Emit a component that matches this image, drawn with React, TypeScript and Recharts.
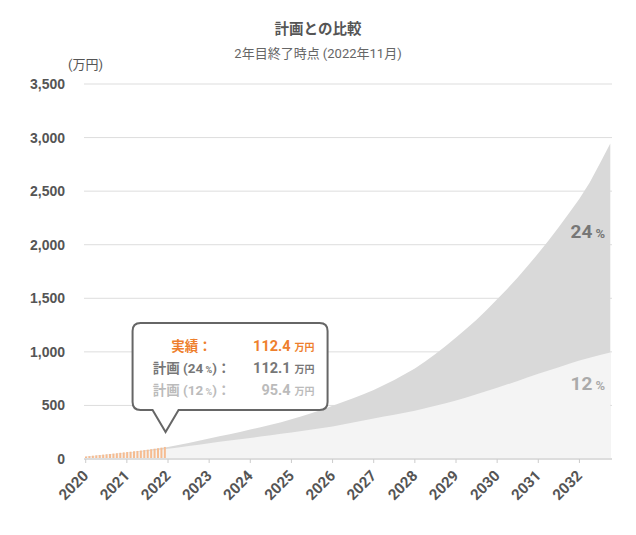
import React from "react";
import {
  ComposedChart,
  Area,
  Bar,
  XAxis,
  YAxis,
  CartesianGrid,
  ReferenceDot,
} from "recharts";

// plan values, every 3 months from 2020-01 (万円)
const plan24Quarterly = [
  22, 30, 39, 48,
  58, 70, 83, 97,
  112, 130, 150, 170,
  192, 212, 232, 253,
  275, 297, 320, 344,
  370, 400, 430, 462,
  497, 532, 568, 605,
  645, 690, 738, 790,
  845, 910, 980, 1055,
  1135, 1215, 1300, 1392,
  1490, 1590, 1695, 1805,
  1920, 2040, 2165, 2295,
  2430, 2580, 2760, 2945,
];
const plan12Quarterly = [
  20, 29, 38, 46,
  55, 65, 75, 85,
  95, 108, 121, 134,
  148, 160, 172, 184,
  196, 209, 222, 235,
  248, 262, 276, 290,
  304, 322, 340, 359,
  378, 396, 414, 432,
  450, 473, 496, 520,
  545, 574, 604, 634,
  665, 697, 729, 762,
  795, 826, 857, 888,
  920, 945, 970, 993,
];
// actual, monthly
const actualMonthly = [
  24, 27, 31, 34, 37, 41, 44, 47, 51, 54, 58, 62,
  65, 68, 72, 75, 79, 83, 87, 91, 96, 101, 106, 112.4,
];
const yearLabels = [
  "2020", "2021", "2022", "2023", "2024", "2025", "2026",
  "2027", "2028", "2029", "2030", "2031", "2032",
];
const yTicks = [0, 500, 1000, 1500, 2000, 2500, 3000, 3500];

const MONTHS = 154;
const CALLOUT_INDEX = 23;
const calloutActual = 112.4;
const calloutPlan24 = 112.1;
const calloutPlan12 = 95.4;

const data = Array.from({ length: MONTHS }, (_, m) => ({
  m,
  actual: m < actualMonthly.length ? actualMonthly[m] : null,
  p24: m % 3 === 0 ? plan24Quarterly[m / 3] : null,
  p12: m % 3 === 0 ? plan12Quarterly[m / 3] : null,
}));

const FONT = "Roboto, 'Noto Sans CJK JP', sans-serif";
const ORANGE = "#EE7F2D";

function YearTick({ x, y, payload }: any) {
  const label = yearLabels[payload.value / 12];
  if (!label) return null;
  return (
    <g transform={`translate(${x - 2},${y + 6})`}>
      <text
        textAnchor="end"
        transform="rotate(-45)"
        dy={8}
        fill="#555"
        fontSize={15}
        fontWeight={700}
        fontFamily={FONT}
      >
        {label}
      </text>
    </g>
  );
}

function Callout({ cx, cy }: any) {
  const tx = cx + 1;
  const ty = cy - 15;
  const left = tx - 33;
  const right = tx + 162;
  const top = ty - 109;
  const bottom = ty - 22;
  const r = 8;
  const path = [
    `M${left + r},${top}`,
    `H${right - r}`,
    `Q${right},${top} ${right},${top + r}`,
    `V${bottom - r}`,
    `Q${right},${bottom} ${right - r},${bottom}`,
    `H${tx + 13}`,
    `L${tx},${ty}`,
    `L${tx - 13},${bottom}`,
    `H${left + r}`,
    `Q${left},${bottom} ${left},${bottom - r}`,
    `V${top + r}`,
    `Q${left},${top} ${left + r},${top}`,
    "Z",
  ].join(" ");
  const labelX = tx + 26;
  const valueX = tx + 125;
  const unitX = tx + 149;
  const rows = [
    { label: "実績：", pct: "", value: calloutActual, color: ORANGE },
    { label: "計画 (24", pct: " %", value: calloutPlan24, color: "#777" },
    { label: "計画 (12", pct: " %", value: calloutPlan12, color: "#bbb" },
  ];
  return (
    <g fontFamily={FONT} fontWeight={700}>
      <path d={path} fill="#fff" stroke="#666" strokeWidth={2} />
      {rows.map((row, i) => {
        const by = top + 28 + i * 22;
        return (
          <g key={i} fill={row.color}>
            <text x={labelX} y={by} textAnchor="middle" fontSize={13.5}>
              {row.label}
              {row.pct && <tspan fontSize={9}>{row.pct}</tspan>}
              {row.pct && <tspan fontSize={13.5}>)：</tspan>}
            </text>
            <text x={valueX} y={by} textAnchor="end" fontSize={14.5}>
              {row.value.toFixed(1)}
            </text>
            <text x={unitX} y={by} textAnchor="end" fontSize={10}>
              万円
            </text>
          </g>
        );
      })}
    </g>
  );
}

export default function App() {
  return (
    <div
      style={{
        position: "absolute",
        left: 0,
        top: 0,
        width: 636,
        height: 535,
        background: "#fff",
        fontFamily: FONT,
      }}
    >
      <div style={{ position: "absolute", top: 17, width: 636, textAlign: "center", fontSize: 14.5, fontWeight: 700, color: "#555" }}>
        計画との比較
      </div>
      <div style={{ position: "absolute", top: 43, width: 636, textAlign: "center", fontSize: 13, color: "#666" }}>
        2年目終了時点 (2022年11月)
      </div>
      <div style={{ position: "absolute", top: 54, left: 68, fontSize: 13, color: "#555" }}>(万円)</div>
      <ComposedChart
        width={636}
        height={535}
        data={data}
        margin={{ top: 84, right: 24, bottom: 26, left: 0 }}
        barSize={2}
        style={{ position: "absolute", left: 0, top: 0 }}
      >
        <CartesianGrid vertical={false} stroke="#ddd" />
        <XAxis
          dataKey="m"
          interval={11}
          height={50}
          axisLine={{ stroke: "#ddd", strokeWidth: 2 }}
          tickLine={{ stroke: "#ccc" }}
          tickSize={4}
          tick={<YearTick />}
        />
        <YAxis
          domain={[0, 3500]}
          ticks={yTicks}
          width={84}
          axisLine={false}
          tickLine={false}
          tickSize={0}
          tickMargin={19}
          tickFormatter={(v) => v.toLocaleString("en-US")}
          tick={{ fill: "#555", fontSize: 14, fontWeight: 700, fontFamily: "'Liberation Sans', Arial, sans-serif" }}
        />
        <Area
          type="linear"
          dataKey="p24"
          connectNulls
          stroke="none"
          fill="#d9d9d9"
          fillOpacity={1}
          isAnimationActive={false}
        />
        <Area
          type="linear"
          dataKey="p12"
          connectNulls
          stroke="none"
          fill="#f4f4f4"
          fillOpacity={1}
          isAnimationActive={false}
        />
        <Bar dataKey="actual" fill="#F6BC91" isAnimationActive={false} />
        <ReferenceDot
          x={CALLOUT_INDEX}
          y={calloutActual}
          ifOverflow="visible"
          shape={(p: any) => <Callout {...p} />}
        />
      </ComposedChart>
      <svg
        width={636}
        height={535}
        style={{ position: "absolute", left: 0, top: 0, pointerEvents: "none" }}
        fontFamily={FONT}
        fontWeight={700}
      >
        <text x={605} y={238} textAnchor="end" fill="#777">
          <tspan fontSize={19}>24</tspan>
          <tspan fontSize={13} dx={3}>%</tspan>
        </text>
        <text x={605} y={390} textAnchor="end" fill="#aaa">
          <tspan fontSize={19}>12</tspan>
          <tspan fontSize={13} dx={3}>%</tspan>
        </text>
      </svg>
    </div>
  );
}
